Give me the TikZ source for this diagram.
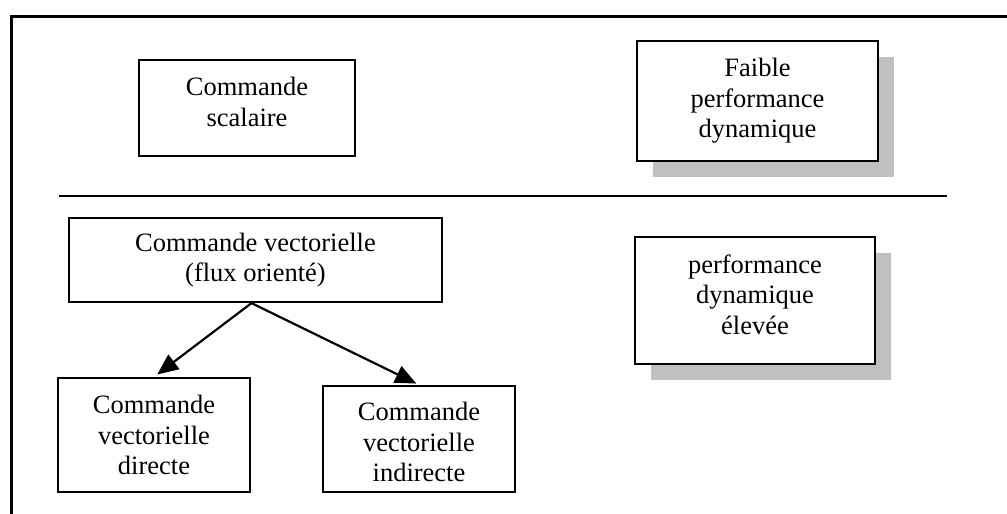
\documentclass[tikz,border=0pt]{standalone}
\usepackage{fontspec}
\setmainfont{Liberation Serif}
\usetikzlibrary{arrows.meta,shadows}
\definecolor{shadowgray}{RGB}{192,192,192}
\begin{document}
\begin{tikzpicture}[x=1pt,y=-1pt,
  box/.style={draw,line width=2.2pt,fill=white,inner sep=0pt},
  shadowbox/.style={box,drop shadow={shadow xshift=16pt,shadow yshift=-16pt,
    fill=shadowgray,opacity=1}},
  txt/.style={align=center,inner sep=0pt,font=\fontsize{26.5}{30.5}\selectfont},
  link/.style={line width=2.2pt,-{Triangle[length=21pt,width=18pt]}}]
  \useasboundingbox (0,0) rectangle (1007,514);
  % outer frame (open to the right and bottom)
  \draw[line width=3pt] (11,520) -- (11,16) -- (1012,16);
  % separator between the two families of control
  \draw[line width=2.5pt] (59,196) -- (947,196);
  % upper part
  \node[box,minimum width=216pt,minimum height=96pt,
    label={[txt,yshift=6pt]center:{Commande\\scalaire}}] (scal) at (247,108) {};
  \node[shadowbox,minimum width=241pt,minimum height=120pt,
    label={[txt]center:{Faible\\performance\\dynamique}}] (faible) at (757.5,101) {};
  % lower part
  \node[box,minimum width=373pt,minimum height=84pt,
    label={[txt]center:{Commande vectorielle\\(flux orienté)}}] (vect) at (255.5,260) {};
  \node[shadowbox,minimum width=240pt,minimum height=127pt,
    label={[txt,yshift=6pt]center:{performance\\dynamique\\élevée}}] (elev) at (755,300.5) {};
  \node[box,minimum width=192pt,minimum height=114pt,
    label={[txt]center:{Commande\\vectorielle\\directe}}] (dir) at (154,435) {};
  \node[box,minimum width=192pt,minimum height=106pt,
    label={[txt,yshift=-3pt]center:{Commande\\vectorielle\\indirecte}}] (ind) at (419,439) {};
  % vector control variants
  \draw[link,shorten >=4pt] ([xshift=-4pt]vect.south) -- (dir.north);
  \draw[link,shorten >=3pt] ([xshift=-4pt]vect.south) -- (ind.north);
\end{tikzpicture}
\end{document}
